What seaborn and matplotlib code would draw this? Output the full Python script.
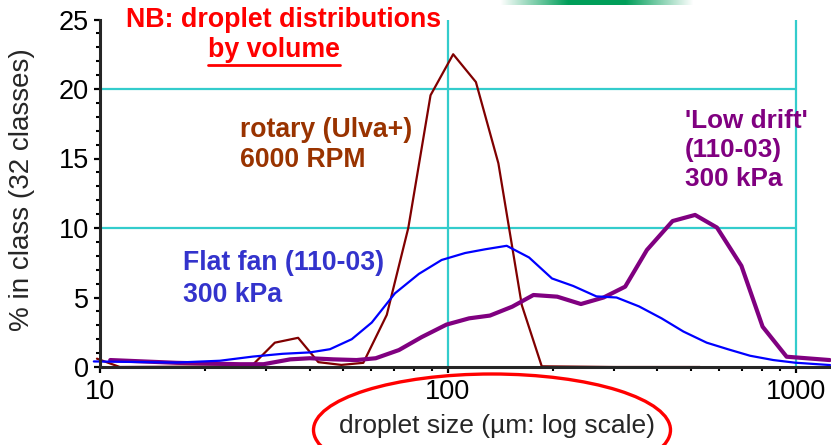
import numpy as np
import pandas as pd
import matplotlib
matplotlib.use("Agg")
import matplotlib.pyplot as plt
import matplotlib.ticker as mticker
from matplotlib.patches import Ellipse
import seaborn as sns

# ---- data ----
rotary_x = [9.8, 11.4, 27.2, 31.8, 37.1, 42.4, 49.4, 57.1, 66.7, 76.9, 89.1,
            103.5, 120.3, 139.6, 163.0, 186.0, 300.0, 530.0]
rotary_y = [0.6, 0.0, 0.05, 1.75, 2.1, 0.35, 0.15, 0.3, 3.75, 10.0, 19.55,
            22.5, 20.5, 14.65, 4.45, 0.05, 0.0, 0.0]

flatfan_x = [9.6, 16.6, 22.1, 27.5, 33.5, 40.1, 45.8, 52.9, 60.4, 70.4, 82.5,
             95.9, 112.0, 128.0, 147.5, 171.0, 199.0, 229.0, 267.0, 305.0,
             354.0, 411.0, 475.0, 554.0, 639.0, 738.0, 861.0, 994.0, 1253.0]
flatfan_y = [0.4, 0.32, 0.45, 0.75, 0.95, 1.05, 1.28, 2.0, 3.2, 5.3, 6.7,
             7.7, 8.2, 8.47, 8.72, 7.88, 6.37, 5.83, 5.08, 5.0,
             4.36, 3.5, 2.55, 1.75, 1.27, 0.81, 0.5, 0.31, 0.14]

lowdrift_x = [10.7, 16.6, 25.2, 29.5, 35.2, 40.1, 46.8, 54.6, 62.0, 72.3, 84.0,
              99.0, 115.0, 132.0, 153.0, 176.0, 206.0, 241.0, 280.0, 323.0,
              373.0, 442.0, 513.0, 593.0, 697.0, 802.0, 940.0, 1250.0]
lowdrift_y = [0.5, 0.3, 0.2, 0.2, 0.55, 0.63, 0.55, 0.5, 0.63, 1.22, 2.15,
              3.05, 3.5, 3.7, 4.34, 5.18, 5.06, 4.53, 5.0, 5.78,
              8.42, 10.5, 10.94, 10.03, 7.28, 2.9, 0.74, 0.5]

x_ticks = [10, 100, 1000]
y_ticks = [0, 5, 10, 15, 20, 25]

sns.set_style("ticks")
plt.rcParams['font.family'] = ['Liberation Sans', 'DejaVu Sans']

W, H = 831, 445
fig = plt.figure(figsize=(W / 100, H / 100), dpi=100)

# axes placement (pixels): left 100, right 831, top 19.5, bottom 367
ax = fig.add_axes([100 / W, 1 - 367 / H, 731 / W, (367 - 19.5) / H])
ax.set_xscale("log")
ax.set_xlim(10, 1261)
ax.set_ylim(0, 25)

# cyan grid lines
gc = "#33CCCC"
ax.vlines([100, 1000], 0, 25, color=gc, lw=1.6, zorder=1)
ax.hlines([10, 20], 10, 1000, color=gc, lw=1.6, zorder=1)

df_r = pd.DataFrame({"x": rotary_x, "y": rotary_y})
df_f = pd.DataFrame({"x": flatfan_x, "y": flatfan_y})
df_l = pd.DataFrame({"x": lowdrift_x, "y": lowdrift_y})

sns.lineplot(data=df_r, x="x", y="y", ax=ax, color="#800000", lw=1.6,
             sort=False, estimator=None, zorder=3, clip_on=False)
sns.lineplot(data=df_l, x="x", y="y", ax=ax, color="#800080", lw=3.0,
             sort=False, estimator=None, zorder=4, clip_on=False)
sns.lineplot(data=df_f, x="x", y="y", ax=ax, color="#0000FF", lw=1.6,
             sort=False, estimator=None, zorder=5, clip_on=False)

# spines & ticks
for s in ["top", "right"]:
    ax.spines[s].set_visible(False)
ax.spines["left"].set_linewidth(2.2)
ax.spines["bottom"].set_linewidth(2.2)
ax.spines["left"].set_zorder(6)
ax.spines["bottom"].set_zorder(6)

ax.set_xticks(x_ticks)
ax.set_xticklabels([str(v) for v in x_ticks])
ax.xaxis.set_minor_locator(mticker.LogLocator(base=10, subs=np.arange(2, 10)))
ax.xaxis.set_minor_formatter(mticker.NullFormatter())
ax.set_yticks(y_ticks)
ax.set_yticklabels([str(v) for v in y_ticks])
ax.yaxis.set_minor_locator(mticker.MultipleLocator(1))

ax.tick_params(axis="both", which="major", direction="out", length=4.5,
               width=1.6, labelsize=19.5, colors="black")
ax.tick_params(axis="both", which="minor", direction="out", length=2.8,
               width=1.5, colors="black")
ax.tick_params(axis="x", which="major", pad=4)
ax.tick_params(axis="y", which="major", pad=3.5)

ax.set_xlabel("")
ax.set_ylabel("")
ax.set_facecolor("white")

def px(x, y):
    return x / W, 1 - y / H

fig.text(*px(22, 190), "% in class (32 classes)", fontsize=20,
         rotation=90, ha="center", va="center")

# x label (offset, inside red ellipse)
fig.text(*px(497, 426), "droplet size (µm: log scale)", fontsize=19,
         ha="center", va="center")
ell = Ellipse(px(492, 430), 357 / W, 112 / H, transform=fig.transFigure,
              fill=False, edgecolor="#FF0000", lw=2.4)
fig.add_artist(ell)

# annotations
fig.text(*px(284, 20), "NB: droplet distributions", fontsize=19.3,
         fontweight="bold", color="#FF0000", ha="center", va="center")
fig.text(*px(274, 50), "by volume", fontsize=19.3, fontweight="bold",
         color="#FF0000", ha="center", va="center")
fig.add_artist(plt.Line2D([208 / W, 340 / W], [1 - 64.5 / H, 1 - 64.5 / H],
                          transform=fig.transFigure, color="#FF0000", lw=2))

fig.text(*px(240, 145), "rotary (Ulva+)\n6000 RPM", fontsize=19.2,
         fontweight="bold", color="#993300", ha="left", va="center",
         linespacing=1.2)
fig.text(*px(183, 279), "Flat fan (110-03)\n300 kPa", fontsize=19.2,
         fontweight="bold", color="#3333CC", ha="left", va="center",
         linespacing=1.25)
fig.text(*px(685, 150), "'Low drift'\n(110-03)\n300 kPa", fontsize=18.8,
         fontweight="bold", color="#800080", ha="left", va="center",
         linespacing=1.25)

# green gradient strip at top
gax = fig.add_axes([500 / W, 1 - 5 / H, 193 / W, 5 / H])
gx = np.linspace(0, 1, 200)
alpha = np.clip(np.minimum(gx / 0.35, (1 - gx) / 0.35), 0, 1)
img = np.zeros((1, 200, 4))
img[..., 0] = 0.0
img[..., 1] = 0.62
img[..., 2] = 0.35
img[..., 3] = alpha
gax.imshow(img, aspect="auto", extent=[0, 1, 0, 1])
gax.axis("off")

fig.savefig("out.png", dpi=100)
